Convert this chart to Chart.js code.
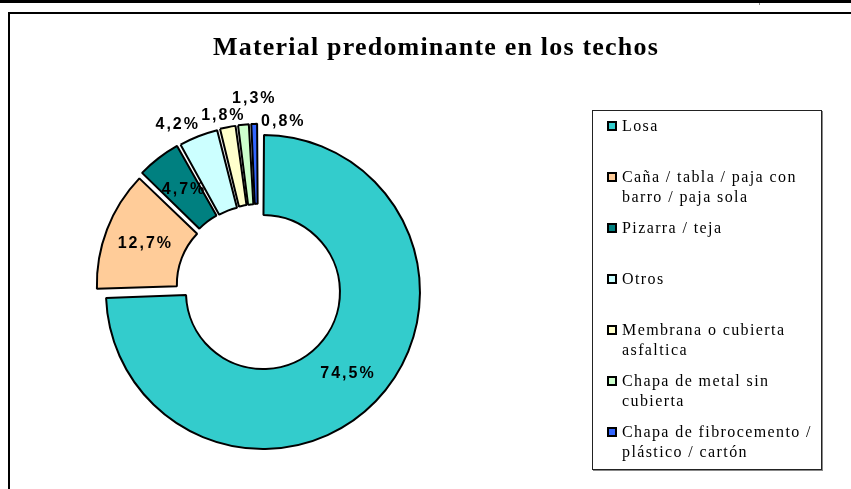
<!DOCTYPE html>
<html>
<head>
<meta charset="utf-8">
<script src="https://cdn.jsdelivr.net/npm/chart.js@4.4.1/dist/chart.umd.min.js"></script>
<style>
  html, body { margin: 0; padding: 0; background: #fff; width: 851px; height: 489px; overflow: hidden; }
  body { position: relative; }
  #topbar { position: absolute; left: 0; top: 0; width: 851px; height: 3px; background: #000; }
  #tick { position: absolute; left: 759px; top: 3px; width: 1px; height: 2px; background: #888; }
  #frame { position: absolute; left: 8px; top: 12px; width: 900px; height: 600px;
           border-top: 2px solid #000; border-left: 2px solid #000; }
  #c { position: absolute; left: 0; top: 0; }
  #title { position: absolute; left: 0; top: 32px; width: 872px; text-align: center;
           font: bold 26px "Liberation Serif", "Times New Roman", serif; line-height: 30px;
           letter-spacing: 1.2px; color: #000; white-space: nowrap; }
  #legend { position: absolute; left: 592px; top: 110px; width: 228px; height: 358px;
            border: 1px solid #222; box-shadow: 1px 1px 0 #888; background: #fff; }
  .item { position: absolute; left: 0; width: 228px; }
  .mk { position: absolute; left: 14px; top: 5px; width: 10px; height: 10px; box-sizing: border-box;
        border: 2px solid #000; }
  .tx { position: absolute; left: 29px; top: 0; font: 16px "Liberation Serif", "Times New Roman", serif;
        line-height: 20px; letter-spacing: 1.4px; color: #000; white-space: nowrap; }
</style>
</head>
<body>
<div id="topbar"></div>
<div id="tick"></div>
<div id="frame"></div>
<canvas id="c" width="851" height="489"></canvas>
<div id="title"></div>
<div id="legend"></div>
<script>
// ---------- data ----------
const chartTitle = "Material predominante en los techos";
const categories = [
  ["Losa"],
  ["Caña / tabla / paja con", "barro / paja sola"],
  ["Pizarra / teja"],
  ["Otros"],
  ["Membrana o cubierta", "asfaltica"],
  ["Chapa de metal sin", "cubierta"],
  ["Chapa de fibrocemento /", "plástico / cartón"]
];
const values = [74.5, 12.7, 4.7, 4.2, 1.8, 1.3, 0.8];
const valueLabels = ["74,5%", "12,7%", "4,7%", "4,2%", "1,8%", "1,3%", "0,8%"];

// ---------- styles ----------
const colors = ["#33CCCC", "#FFCC99", "#008080", "#CCFFFF", "#FFFFCC", "#CCFFCC", "#3366FF"];
const sliceOffsets = [26, 36, 30, 28, 27, 27, 27];       // explosion (Chart.js arc offset)
// outside-label placement: [angle shift (deg), gap beyond outer edge (px)]; null = inside ring
const labelPlacement = [null, null, null, [-5, 19.5], [-1, 12.5], [3.7, 26], [9.7, 3.5]];
const centerX = 258.3, centerY = 287.5, W = 851, H = 489;

// ---------- title & legend ----------
document.getElementById('title').textContent = chartTitle;
const leg = document.getElementById('legend');
categories.forEach((lines, i) => {
  const it = document.createElement('div');
  it.className = 'item';
  it.style.top = (5 + i * 51) + 'px';
  const mk = document.createElement('div');
  mk.className = 'mk';
  mk.style.background = colors[i];
  const tx = document.createElement('div');
  tx.className = 'tx';
  lines.forEach((l, k) => {
    if (k) tx.appendChild(document.createElement('br'));
    tx.appendChild(document.createTextNode(l));
  });
  it.appendChild(mk); it.appendChild(tx);
  leg.appendChild(it);
});

// ---------- labels plugin ----------
const pctLabels = {
  id: 'pctLabels',
  afterDatasetsDraw(chart) {
    const ctx = chart.ctx;
    const meta = chart.getDatasetMeta(0);
    ctx.save();
    ctx.font = 'bold 16px "Liberation Sans", Arial, sans-serif';
    ctx.letterSpacing = '2px';
    ctx.fillStyle = '#000';
    ctx.textAlign = 'center';
    ctx.textBaseline = 'middle';
    meta.data.forEach((arc, i) => {
      const p = arc.getProps(['x', 'y', 'startAngle', 'endAngle', 'innerRadius', 'outerRadius', 'circumference']);
      const o = (sliceOffsets[i] || 0) / 4;
      const fix = 1 - Math.sin(Math.min(Math.PI, p.circumference));
      const shift = o + o * fix;
      let mid = (p.startAngle + p.endAngle) / 2;
      let r;
      const pl = labelPlacement[i];
      if (!pl) {
        r = (p.innerRadius + p.outerRadius) / 2 + shift;
      } else {
        mid += pl[0] * Math.PI / 180;
        r = p.outerRadius + shift + pl[1];
      }
      const x = p.x + Math.cos(mid) * r + 1;
      const y = p.y + Math.sin(mid) * r;
      ctx.fillText(valueLabels[i], x, y);
    });
    ctx.restore();
  }
};

new Chart(document.getElementById('c'), {
  type: 'doughnut',
  data: {
    labels: categories.map(c => c.join(' ')),
    datasets: [{
      data: values,
      backgroundColor: colors,
      borderColor: '#000',
      borderWidth: 2,
      offset: sliceOffsets
    }]
  },
  options: {
    responsive: false,
    animation: false,
    devicePixelRatio: 1,
    radius: 150.5,
    cutout: '46.84%',
    rotation: 0,
    layout: { padding: { left: 0, right: W - 2 * centerX, top: 2 * centerY - H, bottom: 0 } },
    plugins: { legend: { display: false }, tooltip: { enabled: false }, title: { display: false } }
  },
  plugins: [pctLabels]
});
</script>
</body>
</html>
